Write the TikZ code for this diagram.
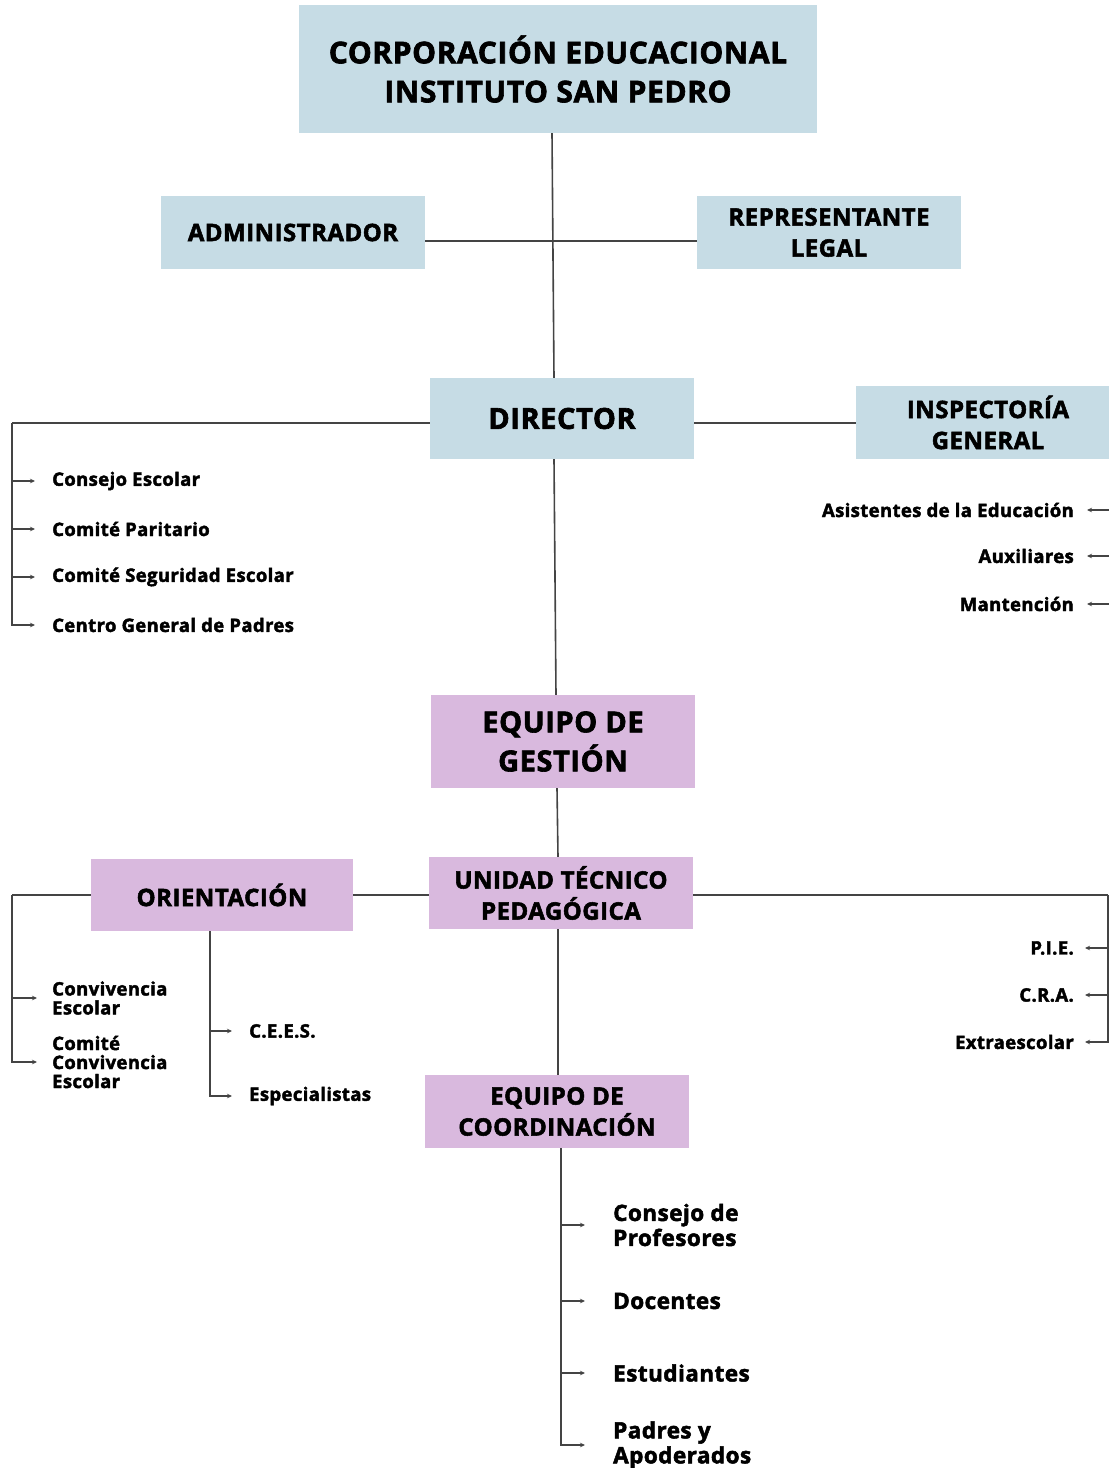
\documentclass[tikz,border=0pt]{standalone}
\usepackage{fontspec}
\setmainfont{Open Sans}[BoldFeatures={FakeBold=2.2,LetterSpace=2}]
\usepackage{tikz}
\usetikzlibrary{positioning}
\usetikzlibrary{arrows.meta}
\definecolor{boxblue}{RGB}{198,220,229}
\definecolor{boxpink}{RGB}{217,185,222}
\definecolor{linegray}{RGB}{68,68,68}
\tikzset{
  bluebox/.style={fill=boxblue, minimum width=264pt, minimum height=73pt, inner sep=0pt, align=center},
  pinkbox/.style={fill=boxpink, minimum width=264pt, minimum height=73pt, inner sep=0pt, align=center},
  item/.style={anchor=west, inner sep=0pt, align=left, font=\fontsize{18.5}{19}\selectfont\bfseries},
  ritem/.style={anchor=east, inner sep=0pt, align=right, font=\fontsize{18.5}{19}\selectfont\bfseries},
  bigitem/.style={anchor=west, inner sep=0pt, align=left, font=\fontsize{22.5}{25}\selectfont\bfseries},
  link/.style={draw=linegray, line width=1.6pt},
  arr/.style={link, -{Stealth[length=5pt,width=4.5pt]}, shorten >=#1},
  arr/.default=17pt
}
\begin{document}
\begin{tikzpicture}[x=1pt,y=-1pt]
\useasboundingbox (0,0) rectangle (1109,1468);

\node[bluebox, minimum width=518pt, minimum height=128pt, font=\fontsize{30}{39}\selectfont\bfseries] (corp) at (558,69) {CORPORACIÓN EDUCACIONAL\\INSTITUTO SAN PEDRO};
\node[bluebox, font=\fontsize{24}{31}\selectfont\bfseries] (adm) at (293,232.5) {ADMINISTRADOR};
\node[bluebox, font=\fontsize{24}{31}\selectfont\bfseries] (rep) at (829,232.5) {REPRESENTANTE\\LEGAL};
\node[bluebox, minimum height=81pt, font=\fontsize{29}{34}\selectfont\bfseries] (dir) at (562,418.5) {DIRECTOR};
\node[bluebox, font=\fontsize{24}{31}\selectfont\bfseries] (insp) at (988,422.5) {INSPECTORÍA\\GENERAL};
\node[pinkbox, minimum height=93pt, font=\fontsize{29}{39}\selectfont\bfseries] (gest) at (563,741.5) {EQUIPO DE\\GESTIÓN};
\node[pinkbox, minimum height=72pt, font=\fontsize{24}{31}\selectfont\bfseries] (utp) at (561,893) {UNIDAD TÉCNICO\\PEDAGÓGICA};
\node[pinkbox, minimum width=262pt, minimum height=72pt, font=\fontsize{24}{31}\selectfont\bfseries] (orient) at (222,895) {ORIENTACIÓN};
\node[pinkbox, font=\fontsize{24}{31}\selectfont\bfseries] (coord) at (557,1111.5) {EQUIPO DE\\COORDINACIÓN};

\node[item] (ce) at (52,481) {Consejo Escolar};
\node[item] (cp) at (52,529) {Comité Paritario};
\node[item] (cse) at (52,577) {Comité Seguridad Escolar};
\node[item] (cgp) at (52,625) {Centro General de Padres};

\node[ritem] (ae) at (1074,510) {Asistentes de la Educación};
\node[ritem] (aux) at (1074,556) {Auxiliares};
\node[ritem] (man) at (1074,604) {Mantención};

\node[item] (conv) at (52,998) {Convivencia\\Escolar};
\node[item] (ccon) at (52,1062) {Comité\\Convivencia\\Escolar};
\node[item] (cees) at (249,1031) {C.E.E.S.};
\node[item] (esp) at (249,1096) {Especialistas};

\node[ritem] (pie) at (1074,948) {P.I.E.};
\node[ritem] (cra) at (1074,995) {C.R.A.};
\node[ritem] (ext) at (1074,1042) {Extraescolar};

\node[bigitem] (cdp) at (613,1225) {Consejo de\\Profesores};
\node[bigitem] (doc) at (613,1301) {Docentes};
\node[bigitem] (est) at (613,1373) {Estudiantes};
\node[bigitem] (pya) at (613,1445) {Padres y\\Apoderados};

\coordinate (dl) at (12,423);
\coordinate (ir) at (1111,459);
\coordinate (ol) at (12,895);
\coordinate (ur) at (1108,895);

\draw[link] ([xshift=-6pt]corp.south) -- ([xshift=-8pt]dir.north);
\draw[link] ([yshift=-8.5pt]adm.east) -- ([yshift=-8.5pt]rep.west);
\draw[link] ([yshift=-4.5pt]dir.east) -- ([yshift=-0.5pt]insp.west);
\draw[link] ([yshift=-4.5pt]dir.west) -- (dl);
\draw[arr] (dl) |- (ce.west);
\draw[arr] (dl) |- (cp.west);
\draw[arr] (dl) |- (cse.west);
\draw[arr] (dl) |- (cgp.west);
\draw[arr=13pt] (ir) |- (ae.east);
\draw[arr=13pt] (ir) |- (aux.east);
\draw[arr=13pt] (ir) |- (man.east);

\draw[link] ([xshift=-8pt]dir.south) -- ([xshift=-7pt]gest.north);
\draw[link] ([xshift=-6pt]gest.south) -- ([xshift=-3pt]utp.north);
\draw[link] (orient.east) -- ([yshift=-2pt]utp.west);
\draw[link] (orient.west) -- (ol);
\draw[arr=15pt] (ol) |- (conv.west);
\draw[arr=15pt] (ol) |- (ccon.west);
\draw[arr] ([xshift=-12pt]orient.south) |- (cees.west);
\draw[arr] ([xshift=-12pt]orient.south) |- (esp.west);
\draw[link] ([yshift=-2pt]utp.east) -- (ur);
\draw[arr=11pt] (ur) |- (pie.east);
\draw[arr=11pt] (ur) |- (cra.east);
\draw[arr=11pt] (ur) |- (ext.east);
\draw[link] ([xshift=-3pt]utp.south) -- ([xshift=1pt]coord.north);
\draw[arr=28pt] ([xshift=4pt]coord.south) |- (cdp.west);
\draw[arr=28pt] ([xshift=4pt]coord.south) |- (doc.west);
\draw[arr=28pt] ([xshift=4pt]coord.south) |- (est.west);
\draw[arr=28pt] ([xshift=4pt]coord.south) |- (pya.west);
\end{tikzpicture}
\end{document}
